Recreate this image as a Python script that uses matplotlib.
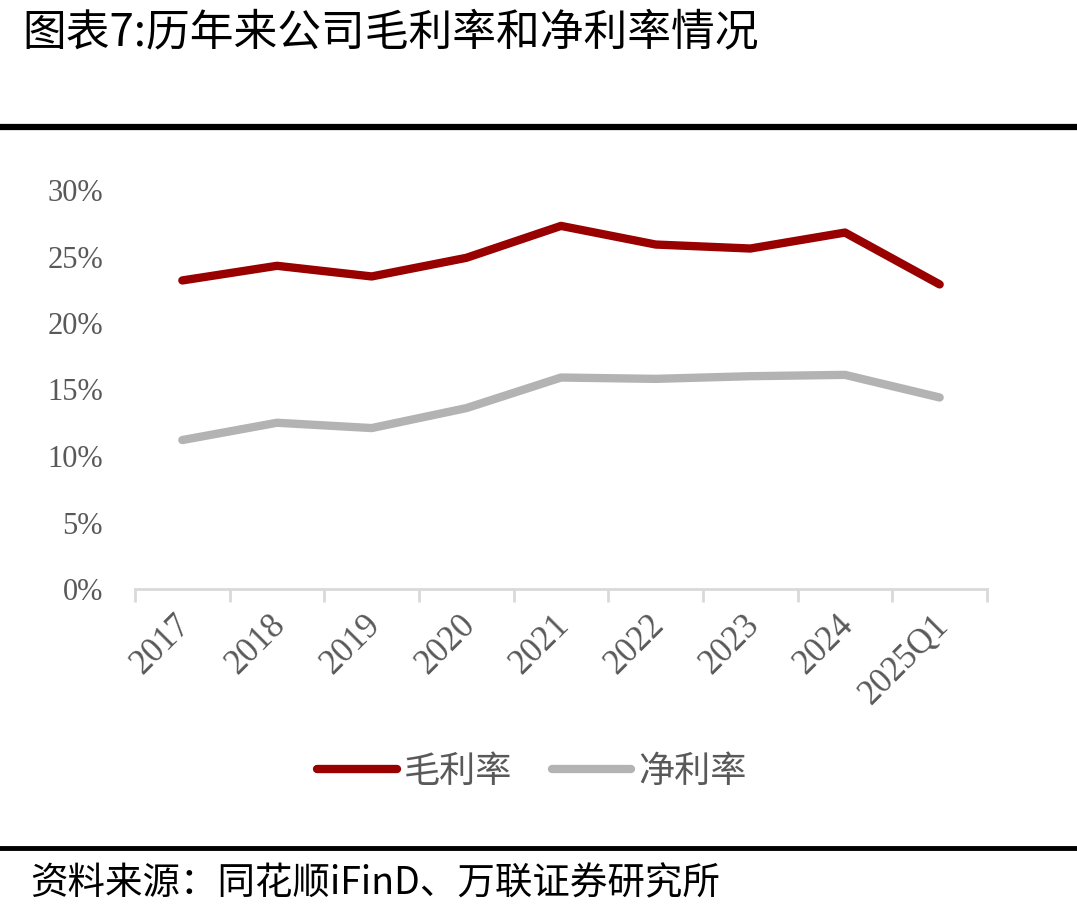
import matplotlib
matplotlib.use("Agg")
import matplotlib.pyplot as plt
from matplotlib.ticker import PercentFormatter
from matplotlib.lines import Line2D

plt.rcParams['font.family'] = ['Noto Sans CJK SC', 'DejaVu Sans']

categories = ["2017", "2018", "2019", "2020", "2021", "2022", "2023", "2024", "2025Q1"]
gross_margin = [23.2, 24.3, 23.5, 24.9, 27.3, 25.9, 25.6, 26.8, 22.9]
net_margin = [11.2, 12.5, 12.1, 13.6, 15.9, 15.8, 16.0, 16.1, 14.4]
series_names = ["毛利率", "净利率"]
yticks = [0, 5, 10, 15, 20, 25, 30]

RED = "#990000"
GRAY = "#B3B3B3"
TICKC = "#595959"

W, H = 1077, 917
fig = plt.figure(figsize=(W / 100, H / 100), dpi=100)

# axes: x 135..987, y 190..589 (pixels from top)
ax = fig.add_axes([135 / W, 1 - 589 / H, (987 - 135) / W, (589 - 190) / H])
x = list(range(len(categories)))
ax.plot(x, gross_margin, color=RED, lw=6, solid_capstyle='round', solid_joinstyle='round')
ax.plot(x, net_margin, color=GRAY, lw=6, solid_capstyle='round', solid_joinstyle='round')
ax.set_xlim(-0.5, len(categories) - 0.5)
ax.set_ylim(0, 30)

for s in ["top", "right", "left"]:
    ax.spines[s].set_visible(False)
ax.spines["bottom"].set_color("#D9D9D9")
ax.spines["bottom"].set_linewidth(2)

ax.set_yticks(yticks)
ax.yaxis.set_major_formatter(PercentFormatter(decimals=0))
ax.tick_params(axis='y', length=0, pad=23, labelcolor=TICKC)
for lab in ax.get_yticklabels():
    lab.set_fontfamily(['Liberation Serif'])
    lab.set_fontsize(22)

ax.set_xticks([i - 0.5 for i in range(len(categories) + 1)])
ax.set_xticklabels([])
ax.tick_params(axis='x', which='major', length=9, width=2, color="#D9D9D9", direction='out')
ax.set_xticks(x, minor=True)
ax.set_xticklabels(categories, minor=True, rotation=45, ha='right', va='top',
                   rotation_mode='anchor', fontfamily=['Liberation Serif'], fontsize=25, color=TICKC)
ax.tick_params(axis='x', which='minor', length=0, pad=14)
for lab in ax.get_xticklabels(minor=True):
    lab.set_transform(lab.get_transform() + matplotlib.transforms.ScaledTranslation(-0.08, 0, fig.dpi_scale_trans))

# title
fig.text(22 / W, 1 - 32 / H, "图表7:历年来公司毛利率和净利率情况", fontsize=31.5, va='center', ha='left', color='black')

# rules
fig.add_artist(Line2D([0, 1], [1 - 127 / H, 1 - 127 / H], color='black', lw=4.5, transform=fig.transFigure))
fig.add_artist(Line2D([0, 1], [1 - 848 / H, 1 - 848 / H], color='black', lw=3.5, transform=fig.transFigure))

# legend
handles = [Line2D([], [], color=RED, lw=6, solid_capstyle='round'),
           Line2D([], [], color=GRAY, lw=6, solid_capstyle='round')]
leg = fig.legend(handles, series_names, loc='center', bbox_to_anchor=(532 / W, 1 - 772 / H),
                 ncol=2, frameon=False, fontsize=26, handlelength=2.2, handletextpad=0.2,
                 columnspacing=1.1, labelcolor=TICKC)

# source
fig.text(30 / W, 1 - 884 / H, "资料来源：同花顺iFinD、万联证券研究所", fontsize=27, va='center', ha='left',
         color='black', style='italic')

fig.savefig("out.png", dpi=100)
